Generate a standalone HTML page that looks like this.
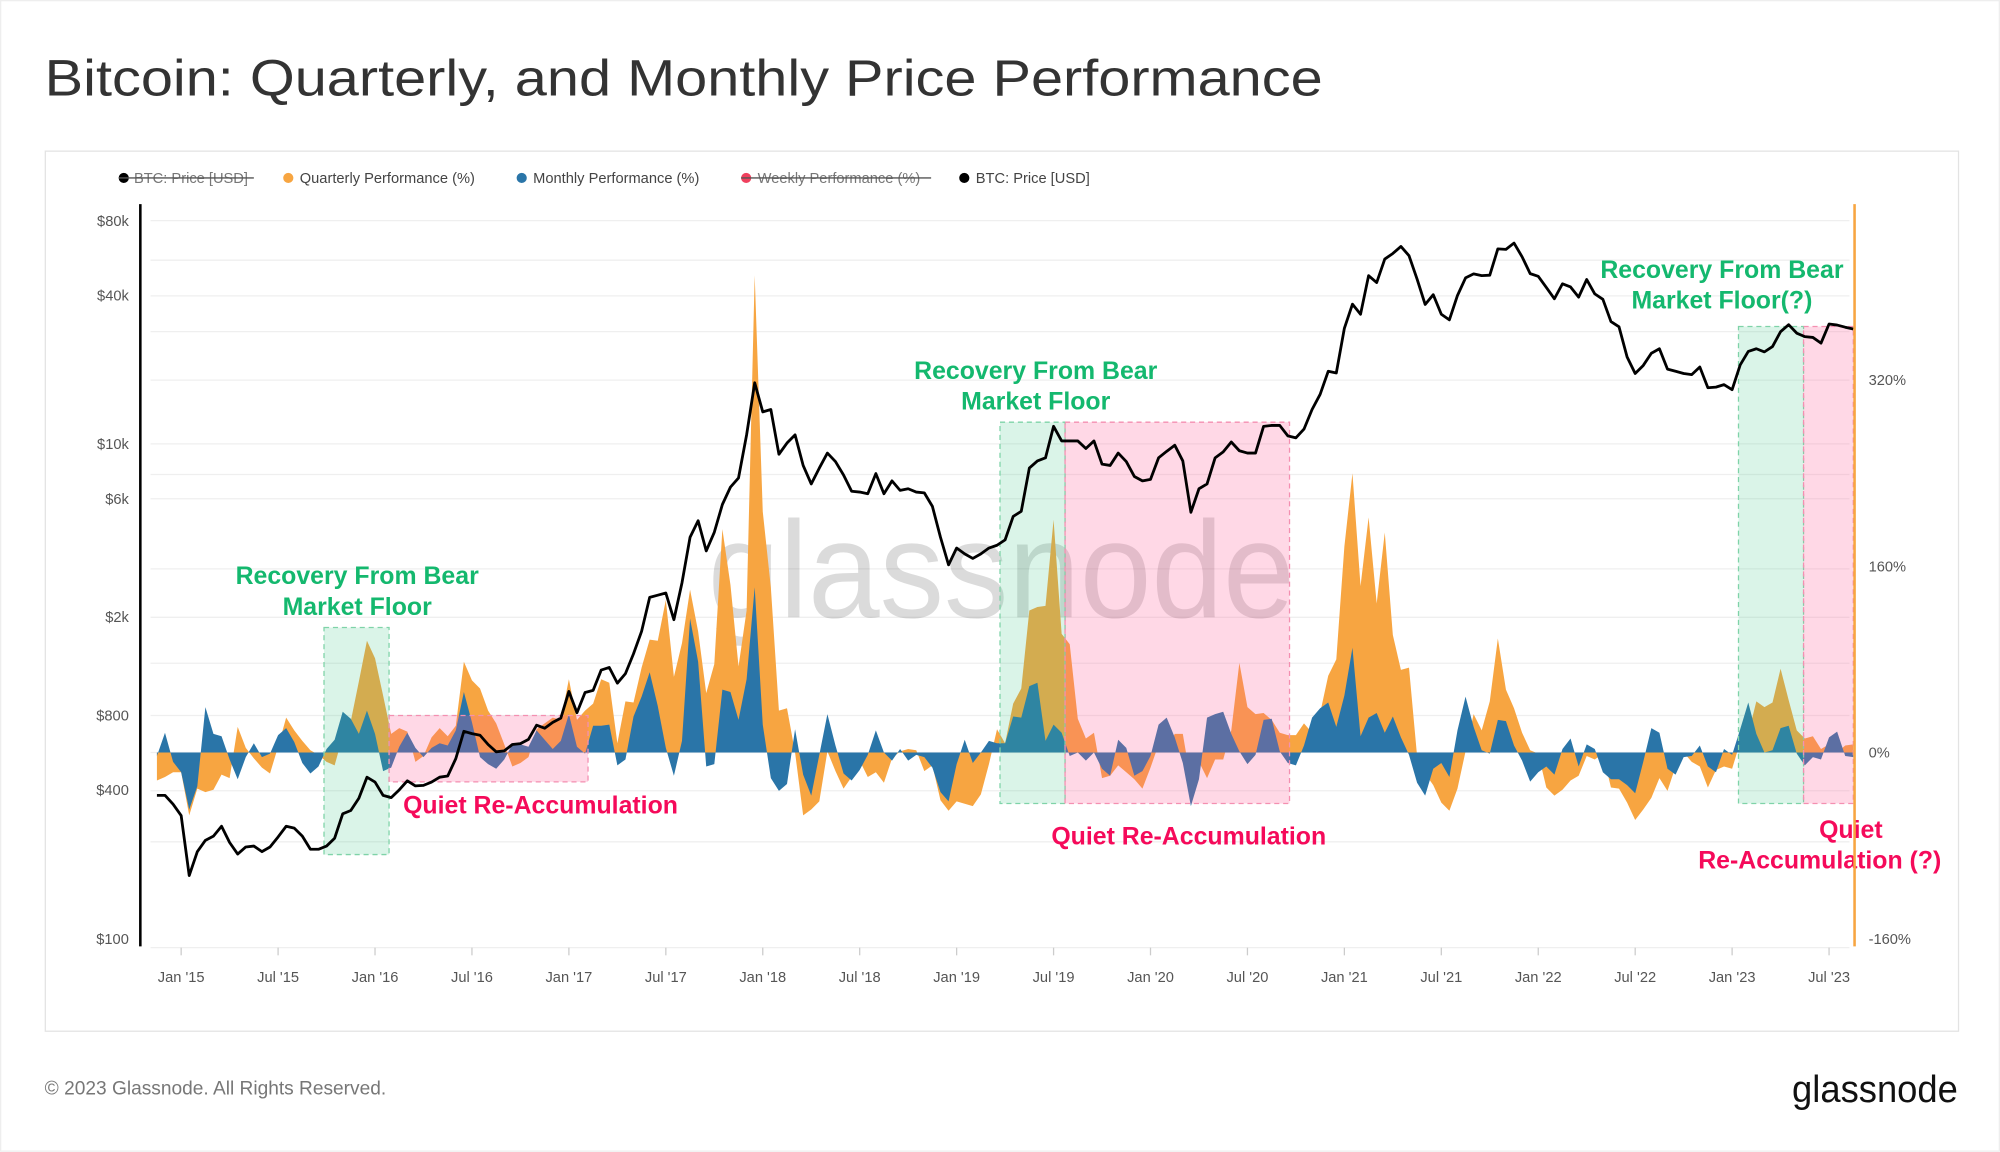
<!DOCTYPE html>
<html><head><meta charset="utf-8"><style>
html,body{margin:0;padding:0;background:#fff;}
svg{display:block;font-family:"Liberation Sans",sans-serif;}
</style></head><body>
<svg id="chart" width="2000" height="1152" viewBox="0 0 1568 903.2" xmlns="http://www.w3.org/2000/svg">
<rect x="0.5" y="0.5" width="1567" height="902" fill="#fff" stroke="#eee"/>
<text x="35" y="75" font-size="40" fill="#333" textLength="1002" lengthAdjust="spacingAndGlyphs">Bitcoin: Quarterly, and Monthly Price Performance</text>
<rect x="35.5" y="118.5" width="1500" height="690" fill="#fff" stroke="#e3e3e3"/>
<g font-size="11.5" fill="#444">
 <g><circle cx="97" cy="139.5" r="4" fill="#000"/><text x="105" y="143.5" fill="#777">BTC: Price [USD]</text><line x1="93" y1="139.5" x2="199" y2="139.5" stroke="#555" stroke-width="1"/></g>
 <g><circle cx="226" cy="139.5" r="4" fill="#f7a541"/><text x="235" y="143.5">Quarterly Performance (%)</text></g>
 <g><circle cx="409" cy="139.5" r="4" fill="#2a75a8"/><text x="418" y="143.5">Monthly Performance (%)</text></g>
 <g><circle cx="585" cy="139.5" r="4" fill="#f0405e"/><text x="594" y="143.5" fill="#777">Weekly Performance (%)</text><line x1="581" y1="139.5" x2="730" y2="139.5" stroke="#555" stroke-width="1"/></g>
 <g><circle cx="756" cy="139.5" r="4" fill="#000"/><text x="765" y="143.5">BTC: Price [USD]</text></g>
</g>
<g id="grid"></g>
<g id="marks"></g>
<g id="axes"></g>
<text x="1430" y="858" font-size="15" fill="#777" text-anchor="end" style="display:none"></text>
<text x="35" y="858" font-size="15" fill="#777">© 2023 Glassnode. All Rights Reserved.</text>
<text x="1535" y="864" font-size="30" fill="#111" text-anchor="end" textLength="130" lengthAdjust="spacingAndGlyphs">glassnode</text>
</svg>
<script>
const startYear = 2014.875; // Nov 15 2014, semi-monthly steps
const priceValues = [380,380,350,315,180,225,250,260,285,245,220,235,237,225,235,258,285,280,260,230,230,237,255,320,330,370,450,430,380,372,400,435,415,417,430,450,455,535,690,675,665,610,570,575,610,615,640,730,710,750,780,1000,820,990,1010,1220,1250,1080,1180,1420,1750,2400,2450,2500,1950,2750,4200,4900,3700,4400,5700,6700,7300,10900,17700,13500,13800,9100,10100,10900,8200,6900,8000,9200,8500,7500,6450,6400,6300,7600,6300,7100,6500,6600,6400,6350,5600,4200,3250,3800,3600,3450,3600,3800,3900,4100,5100,5350,8000,8550,8800,11800,10300,10300,10300,9600,10300,8300,8200,9200,8500,7400,7100,7200,8800,9350,9900,8550,5300,6600,6900,8800,9300,10200,9400,9200,9200,11800,11900,11900,10800,10600,11500,13800,15900,19700,19400,29400,36800,33500,48000,45000,56000,59000,63000,57800,46500,36700,40200,33500,31800,39900,47000,48800,48000,48200,61600,61300,65000,57200,48900,47700,43000,38700,44500,43200,39300,46300,40500,38500,31300,29800,22500,19300,20800,23300,24300,20100,19700,19300,19100,20500,16900,17000,17400,16600,20900,23700,24300,23600,24800,28500,30400,28100,27200,27000,25600,30600,30300,29700,29200];
const quarterlyValues = [-24,-21,-17,-17,-54,-31,-34,-32,-19,-22,22,4,-5,-13,-18,5,30,19,10,2,-2,-8,-11,14,27,61,96,81,49,16,21,18,-8,-3,13,21,14,23,78,62,55,36,25,7,-12,-9,-4,20,25,30,28,63,28,36,42,63,60,8,44,43,73,97,96,131,65,94,140,104,51,76,192,144,74,122,410,207,142,36,38,0,-54,-49,-42,1,-16,-31,-21,-7,-21,-17,-26,-5,1,3,2,-16,-11,-41,-50,-42,-44,-46,-36,-10,20,8,42,55,122,125,126,200,102,93,29,12,17,-22,-20,-11,-17,-23,-31,-13,7,2,16,16,-25,-8,-22,-6,-6,19,77,39,33,34,28,17,15,15,25,17,34,66,80,177,240,143,202,128,189,101,71,73,-3,-18,-28,-43,-50,-31,1,33,19,44,98,54,38,17,2,-1,-30,-37,-32,-24,-20,-3,-6,-1,-30,-31,-43,-58,-49,-39,-22,-33,-12,0,-8,-12,-30,-15,-12,-14,9,16,44,39,43,72,45,19,12,14,3,7,0,6,7];
const monthlyValues = [-3,17,-8,-17,-49,-29,39,16,14,-6,-23,-4,8,-4,-1,15,21,9,-9,-18,-12,3,11,35,29,16,36,16,-16,-13,5,17,4,-4,4,8,6,19,52,26,-4,-10,-14,-6,7,7,5,19,11,3,10,33,5,-1,23,23,24,-11,-6,31,48,69,40,4,-20,10,115,78,-12,-10,54,52,28,63,142,24,-22,-33,-27,20,-19,-37,-2,33,6,-18,-24,-15,-2,19,0,-7,3,-7,-2,-4,-13,-34,-42,-10,11,-9,0,10,8,8,31,30,57,60,10,24,17,-3,0,-7,0,-14,-20,11,4,-20,-16,-3,24,30,13,-9,-46,-23,30,33,35,16,1,-10,-2,28,29,1,-9,-11,6,30,38,43,22,49,90,14,30,34,17,31,13,-2,-26,-37,-14,-9,-21,19,48,22,2,-1,28,27,6,-7,-25,-17,-12,-19,3,12,-12,7,3,-17,-23,-23,-28,-35,-8,21,17,-14,-19,-4,-3,6,-12,-17,3,-2,20,43,16,0,2,21,23,-1,-11,-4,-6,13,18,-3,-4];
const priceTicks = [80000,40000,10000,6000,2000,800,400,100];
const priceTickLabels = ["$80k","$40k","$10k","$6k","$2k","$800","$400","$100"];
const pctTicks = [320,160,0,-160];
const pctTickLabels = ["320%","160%","0%","-160%"];
const dateTicks = [2015,2015.5,2016,2016.5,2017,2017.5,2018,2018.5,2019,2019.5,2020,2020.5,2021,2021.5,2022,2022.5,2023,2023.5];
const dateTickLabels = ["Jan '15","Jul '15","Jan '16","Jul '16","Jan '17","Jul '17","Jan '18","Jul '18","Jan '19","Jul '19","Jan '20","Jul '20","Jan '21","Jul '21","Jan '22","Jul '22","Jan '23","Jul '23"];

const NS="http://www.w3.org/2000/svg";
function xT(t){return 142+(t-2015)*152;}
function xI(i){return xT(startYear+i/24);}
function yP(p){return 736-(Math.log10(p)-2)*193.9;}
function yQ(v){return 590-v*0.9125;}
function mk(tag,attrs,parent){const e=document.createElementNS(NS,tag);for(const k in attrs)e.setAttribute(k,attrs[k]);parent.appendChild(e);return e;}
const grid=document.getElementById('grid'),marks=document.getElementById('marks'),axes=document.getElementById('axes');

[173,204,232,260,298,348,372,391,446,484,520,561,590,620,660,743].forEach(y=>{
  const l=mk('line',{x1:118,x2:1450,y1:y,y2:y,stroke:'#efefef','stroke-width':1},grid);
  
  
});

// watermark
const wm=mk('text',{x:555,y:484,'font-size':108,fill:'#000','fill-opacity':0.14,textLength:460,lengthAdjust:'spacingAndGlyphs'},marks);
wm.textContent='glassnode';



function areaPath(vals){
  let d='M'+xI(0)+','+yQ(0);
  vals.forEach((v,i)=>{d+=' L'+xI(i).toFixed(2)+','+yQ(v).toFixed(2);});
  d+=' L'+xI(vals.length-1)+','+yQ(0)+' Z';return d;
}
const qa=mk('path',{d:areaPath(quarterlyValues),fill:'#f7a541'},marks);


const ma=mk('path',{d:areaPath(monthlyValues),fill:'#2a75a8'},marks);



// shaded regions
const regions=[[254,305,492,670,'g','recovery-region-2015'],[305,461,561,613,'p','reaccumulation-region-2016'],[784,835,331,630,'g','recovery-region-2019'],[835,1011,331,630,'p','reaccumulation-region-2020'],[1363,1414,256,630,'g','recovery-region-2023'],[1414,1453,256,630,'p','reaccumulation-region-2023']];
regions.forEach(r=>{
  const g=r[4]==='g';
  const e=mk('rect',{x:r[0],y:r[2],width:r[1]-r[0],height:r[3]-r[2],fill:g?'rgba(70,200,140,0.2)':'rgba(255,90,150,0.24)',stroke:g?'#7fd3a8':'#f48fb1','stroke-dasharray':'4,3','stroke-width':1},marks);
  
  
});

let pd='';priceValues.forEach((p,i)=>{pd+=(i?' L':'M')+xI(i).toFixed(2)+','+yP(p).toFixed(2);});
const pl=mk('path',{d:pd,fill:'none',stroke:'#000','stroke-width':2.2,'stroke-linejoin':'round'},marks);



// annotations
const ann=[[280,458,'middle','#14b86e','Recovery From Bear'],[280,482,'middle','#14b86e','Market Floor'],[316,638,'start','#f50a5a','Quiet Re-Accumulation'],[812,297,'middle','#14b86e','Recovery From Bear'],[812,321,'middle','#14b86e','Market Floor'],[932,662,'middle','#f50a5a','Quiet Re-Accumulation'],[1350,218,'middle','#14b86e','Recovery From Bear'],[1350,242,'middle','#14b86e','Market Floor(?)'],[1476,657,'end','#f50a5a','Quiet'],[1522,681,'end','#f50a5a','Re-Accumulation (?)']];
ann.forEach(a=>{
  const t=mk('text',{x:a[0],y:a[1],'text-anchor':a[2],fill:a[3],'font-size':19.5,'font-weight':'bold'},marks);
  t.textContent=a[4];
  
  
});

// axes
const la=mk('line',{x1:110,x2:110,y1:160,y2:742,stroke:'#000','stroke-width':2},axes);


const ra=mk('line',{x1:1454,x2:1454,y1:160,y2:742,stroke:'#f7a541','stroke-width':2},axes);


priceTicks.forEach((p,i)=>{
  const t=mk('text',{x:101,y:yP(p)+4,'text-anchor':'end','font-size':11.5,fill:'#555'},axes);
  t.textContent=priceTickLabels[i];
  
  
});
pctTicks.forEach((v,i)=>{
  const t=mk('text',{x:1465,y:yQ(v)+4,'font-size':11.5,fill:'#555'},axes);
  t.textContent=pctTickLabels[i];
  
  
});
dateTicks.forEach((d,i)=>{
  const x=xT(d);
  const tk=mk('line',{x1:x,x2:x,y1:743,y2:749,stroke:'#ccc','stroke-width':1},axes);
  
  
  const t=mk('text',{x:x,y:770,'text-anchor':'middle','font-size':11.5,fill:'#555'},axes);
  t.textContent=dateTickLabels[i];
  
  
});
</script>
</body></html>
